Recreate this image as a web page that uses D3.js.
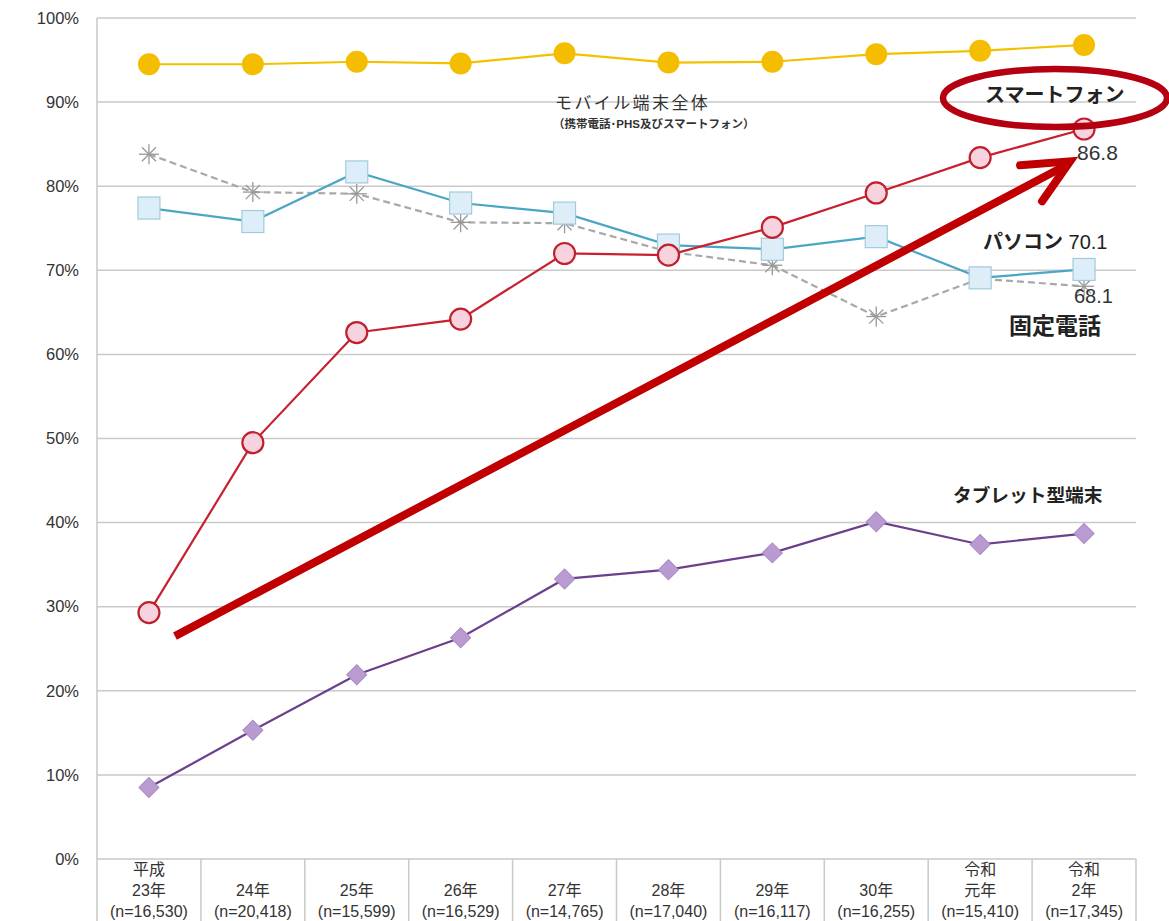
<!DOCTYPE html>
<html>
<head>
<meta charset="utf-8">
<script src="https://cdn.jsdelivr.net/npm/d3@7"></script>
<style>
  body { margin: 0; background: #fff; }
  svg { font-family: "Liberation Sans", "Noto Sans CJK JP", sans-serif; }
</style>
</head>
<body>
<svg id="chart" width="1169" height="921"></svg>
<script>
// survey years, split into label lines
var years = [
  ["平成", "23年", "(n=16,530)"],
  ["24年", "(n=20,418)"],
  ["25年", "(n=15,599)"],
  ["26年", "(n=16,529)"],
  ["27年", "(n=14,765)"],
  ["28年", "(n=17,040)"],
  ["29年", "(n=16,117)"],
  ["30年", "(n=16,255)"],
  ["令和", "元年", "(n=15,410)"],
  ["令和", "2年", "(n=17,345)"]
]
var mobile = [94.5, 94.5, 94.8, 94.6, 95.8, 94.7, 94.8, 95.7, 96.1, 96.8]
var smartphone = [29.3, 49.5, 62.6, 64.2, 72.0, 71.8, 75.1, 79.2, 83.4, 86.8]
var pc = [77.4, 75.8, 81.7, 78.0, 76.8, 73.0, 72.5, 74.0, 69.1, 70.1]
var fixedPhone = [83.8, 79.3, 79.1, 75.7, 75.6, 72.2, 70.6, 64.5, 69.0, 68.1]
var tablet = [8.5, 15.3, 21.9, 26.3, 33.3, 34.4, 36.4, 40.1, 37.4, 38.7]
var yTicks = [0, 10, 20, 30, 40, 50, 60, 70, 80, 90, 100]

var svg = d3.select("#chart")
var plotLeft = 97, plotRight = 1136, plotTop = 18, plotBottom = 859

var x = d3.scaleBand().domain(d3.range(years.length)).range([plotLeft, plotRight])
var y = d3.scaleLinear().domain([0, 100]).range([plotBottom, plotTop])
var cx = function(i) { return x(i) + x.bandwidth() / 2 }

// grid
svg.append("g").selectAll("line")
  .data(yTicks)
  .enter().append("line")
  .attr("x1", plotLeft).attr("x2", plotRight)
  .attr("y1", function(d) { return y(d) }).attr("y2", function(d) { return y(d) })
  .attr("stroke", "#c9c9c9").attr("stroke-width", 1.5)

svg.append("line")
  .attr("x1", plotLeft).attr("x2", plotLeft).attr("y1", plotTop).attr("y2", 921)
  .attr("stroke", "#c9c9c9").attr("stroke-width", 1.5)

// category table separators
svg.append("g").selectAll("line")
  .data(d3.range(1, years.length + 1))
  .enter().append("line")
  .attr("x1", function(d) { return plotLeft + d * x.bandwidth() })
  .attr("x2", function(d) { return plotLeft + d * x.bandwidth() })
  .attr("y1", plotBottom).attr("y2", 921)
  .attr("stroke", "#c9c9c9").attr("stroke-width", 1.5)

// y axis
var yAxis = svg.append("g")
  .attr("transform", "translate(" + (plotLeft - 15) + ",0)")
  .call(d3.axisLeft(y).tickValues(yTicks).tickSize(0).tickFormat(function(d) { return d + "%" }))
yAxis.select(".domain").remove()
yAxis.selectAll("text")
  .attr("font-size", 16.5).attr("fill", "#333")
  .attr("font-family", "Liberation Sans, sans-serif")

// x labels
var xl = svg.append("g").selectAll("text")
  .data(years)
  .enter().append("text")
  .attr("text-anchor", "middle")
  .attr("font-size", 16).attr("fill", "#333")
xl.each(function(lines, i) {
  var t = d3.select(this)
  lines.forEach(function(s, j) {
    t.append("tspan")
      .attr("x", cx(i))
      .attr("y", 917 - (lines.length - 1 - j) * 21)
      .text(s)
  })
})

var line = d3.line()
  .x(function(d, i) { return cx(i) })
  .y(function(d) { return y(d) })

// fixed phone
svg.append("path").datum(fixedPhone)
  .attr("d", line).attr("fill", "none")
  .attr("stroke", "#a8a8a8").attr("stroke-width", 2.2)
  .attr("stroke-dasharray", "7,4")
svg.append("g").selectAll("g")
  .data(fixedPhone)
  .enter().append("g")
  .attr("transform", function(d, i) { return "translate(" + cx(i) + "," + y(d) + ")" })
  .each(function() {
    var g = d3.select(this)
    d3.range(4).forEach(function(k) {
      var a = k * Math.PI / 4
      g.append("line")
        .attr("x1", -10 * Math.cos(a)).attr("y1", -10 * Math.sin(a))
        .attr("x2", 10 * Math.cos(a)).attr("y2", 10 * Math.sin(a))
        .attr("stroke", "#999").attr("stroke-width", 1.3)
    })
  })

// pc
svg.append("path").datum(pc)
  .attr("d", line).attr("fill", "none")
  .attr("stroke", "#4ba6c6").attr("stroke-width", 2.2)
svg.append("g").selectAll("rect")
  .data(pc)
  .enter().append("rect")
  .attr("x", function(d, i) { return cx(i) - 11 })
  .attr("y", function(d) { return y(d) - 11 })
  .attr("width", 22).attr("height", 22)
  .attr("fill", "#ddeef8").attr("stroke", "#a2cade").attr("stroke-width", 1.2)

// tablet
svg.append("path").datum(tablet)
  .attr("d", line).attr("fill", "none")
  .attr("stroke", "#6a3f8c").attr("stroke-width", 2.2)
svg.append("g").selectAll("path")
  .data(tablet)
  .enter().append("path")
  .attr("d", d3.symbol().type(d3.symbolSquare).size(200))
  .attr("transform", function(d, i) { return "translate(" + cx(i) + "," + y(d) + ") rotate(45)" })
  .attr("fill", "#b99bd2").attr("stroke", "#a88bc4").attr("stroke-width", 1)

// smartphone
svg.append("path").datum(smartphone)
  .attr("d", line).attr("fill", "none")
  .attr("stroke", "#c8202e").attr("stroke-width", 2.2)
svg.append("g").selectAll("circle")
  .data(smartphone)
  .enter().append("circle")
  .attr("cx", function(d, i) { return cx(i) })
  .attr("cy", function(d) { return y(d) })
  .attr("r", 10.5)
  .attr("fill", "#f7d3df").attr("stroke", "#c0202c").attr("stroke-width", 2.2)

// mobile total
svg.append("path").datum(mobile)
  .attr("d", line).attr("fill", "none")
  .attr("stroke", "#f2c200").attr("stroke-width", 2.2)
svg.append("g").selectAll("circle")
  .data(mobile)
  .enter().append("circle")
  .attr("cx", function(d, i) { return cx(i) })
  .attr("cy", function(d) { return y(d) })
  .attr("r", 11)
  .attr("fill", "#f5bd00")

// labels
var last = years.length - 1
svg.append("text").attr("x", 555).attr("y", 109)
  .attr("font-size", 17).attr("letter-spacing", 2.4).attr("fill", "#333").text("モバイル端末全体")
svg.append("text").attr("x", 553).attr("y", 128)
  .attr("font-size", 11.5).attr("font-weight", "bold").attr("fill", "#333")
  .text("（携帯電話･PHS及びスマートフォン）")

svg.append("text").attr("x", 985).attr("y", 102)
  .attr("font-size", 20).attr("font-weight", "bold").attr("fill", "#222").text("スマートフォン")
svg.append("text").attr("x", 1077).attr("y", 160)
  .attr("font-size", 21).attr("fill", "#333").text(smartphone[last])

svg.append("text").attr("x", 983).attr("y", 249)
  .attr("font-size", 20).attr("fill", "#222")
  .call(function(t) {
    t.append("tspan").attr("font-weight", "bold").text("パソコン ")
    t.append("tspan").text(pc[last].toFixed(1))
  })
svg.append("text").attr("x", 1074).attr("y", 303)
  .attr("font-size", 20).attr("fill", "#333").text(fixedPhone[last].toFixed(1))
svg.append("text").attr("x", 1009).attr("y", 334)
  .attr("font-size", 23).attr("font-weight", "bold").attr("fill", "#222").text("固定電話")

svg.append("text").attr("x", 953).attr("y", 502)
  .attr("font-size", 18.7).attr("font-weight", "bold").attr("fill", "#222").text("タブレット型端末")

// emphasis ellipse and arrow
svg.append("ellipse")
  .attr("cx", 1055).attr("cy", 98).attr("rx", 112).attr("ry", 29)
  .attr("fill", "none").attr("stroke", "#b40010").attr("stroke-width", 6.5)

var ax1 = cx(0) + 26, ay1 = y(26.5), ax2 = cx(last) - 16, ay2 = y(82.6)
svg.append("line")
  .attr("x1", ax1).attr("y1", ay1).attr("x2", ax2).attr("y2", ay2)
  .attr("stroke", "#c00000").attr("stroke-width", 8)
svg.append("path")
  .attr("d", "M" + (ax2 - 48) + "," + (ay2 + 1) + "L" + (ax2 + 2) + "," + (ay2 - 3) + "L" + (ax2 - 26) + "," + (ay2 + 37))
  .attr("fill", "none").attr("stroke", "#c00000").attr("stroke-width", 8)
  .attr("stroke-linecap", "round").attr("stroke-linejoin", "miter")
</script>
</body>
</html>
